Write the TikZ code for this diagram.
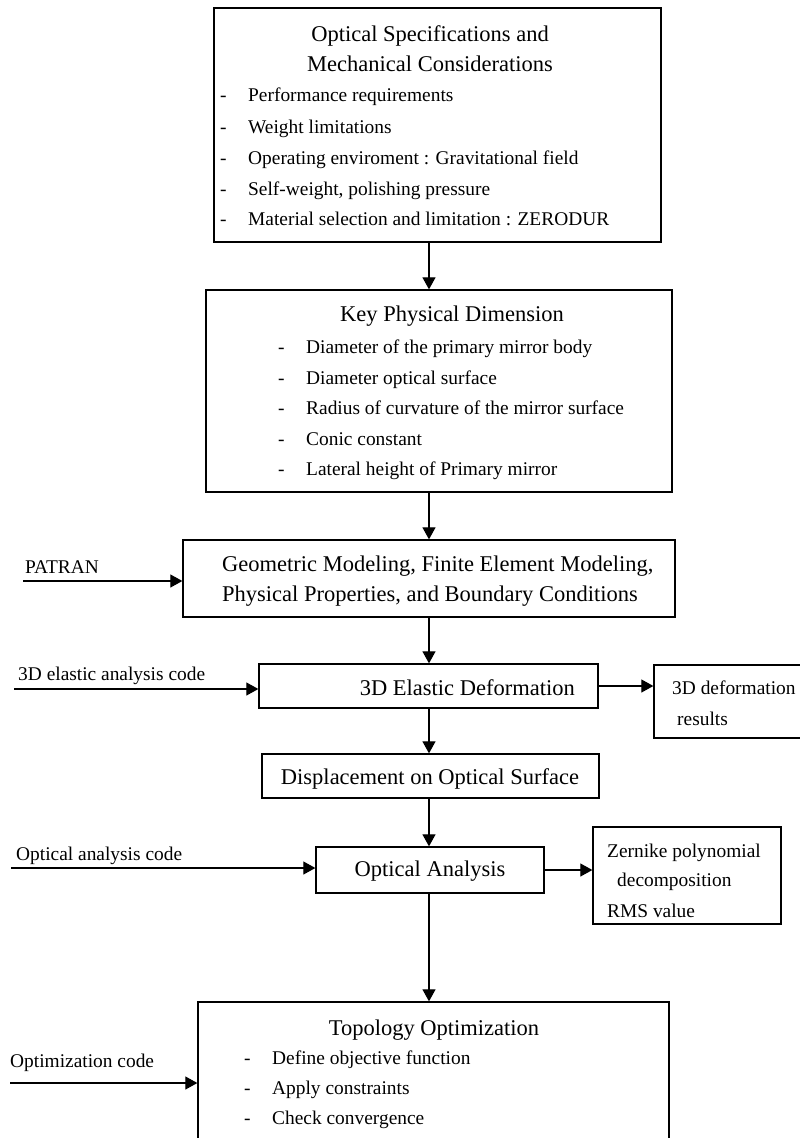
\documentclass[tikz,border=0pt]{standalone}
\usepackage{fontspec}
\setmainfont{Liberation Serif}
\usetikzlibrary{arrows.meta}

\newcommand{\dashitem}[1]{\makebox[28pt][l]{-}#1}

\begin{document}
\begin{tikzpicture}[x=1pt,y=-1pt,
box/.style = {draw, line width=1.3pt, inner sep=0pt},
arr/.style = {line width=1.1pt, -{Triangle[length=12pt,width=13pt]}},
head/.style = {font=\fontsize{22.5}{27}\selectfont, inner sep=0pt, anchor=base},
txt/.style = {font=\fontsize{19.4}{23}\selectfont, inner sep=0pt, anchor=base west}]
\clip (0,0) rectangle (800,1138);

    % boxes
    \node[box, minimum width=447pt, minimum height=234pt] (spec) at (437.5,125) {};
    \node[box, minimum width=466pt, minimum height=202pt] (dims) at (439,391) {};
    \node[box, minimum width=492pt, minimum height=77pt] (geom) at (429,578.5) {};
    \node[box, minimum width=339pt, minimum height=44pt] (elast) at (428.5,686) {};
    \node[box, minimum width=150pt, minimum height=73pt] (defres) at (729,701.5) {};
    \node[box, minimum width=337pt, minimum height=44pt] (disp) at (430.5,776) {};
    \node[box, minimum width=228pt, minimum height=46pt] (optan) at (430,870) {};
    \node[box, minimum width=188pt, minimum height=97pt] (zern) at (687,875.5) {};
    \node[box, minimum width=471pt, minimum height=158pt] (topo) at (433.5,1081) {};

    % specifications
    \node[head] (spect) at (430,41) {Optical Specifications and};
    \node[head] (specu) at (430,71) {Mechanical Considerations};
    \node[txt] (speca) at (220,101) {\dashitem{Performance requirements}};
    \node[txt] (specb) at (220,133) {\dashitem{Weight limitations}};
    \node[txt] (specc) at (220,164) {\dashitem{Operating enviroment : Gravitational field}};
    \node[txt] (specd) at (220,195) {\dashitem{Self-weight, polishing pressure}};
    \node[txt] (spece) at (220,225) {\dashitem{Material selection and limitation : ZERODUR}};

    % dimensions
    \node[head] (dimst) at (452,321) {Key Physical Dimension};
    \node[txt] (dimsa) at (278,353) {\dashitem{Diameter of the primary mirror body}};
    \node[txt] (dimsb) at (278,384) {\dashitem{Diameter optical surface}};
    \node[txt] (dimsc) at (278,414) {\dashitem{Radius of curvature of the mirror surface}};
    \node[txt] (dimsd) at (278,445) {\dashitem{Conic constant}};
    \node[txt] (dimse) at (278,475) {\dashitem{Lateral height of Primary mirror}};

    % modeling
    \node[head, anchor=base west] (geomt) at (222,571) {Geometric Modeling, Finite Element Modeling,};
    \node[head, anchor=base west] (geomu) at (222,601) {Physical Properties, and Boundary Conditions};
    \node[txt] (patran) at (25,573) {PATRAN};
    \coordinate (patranin) at (23,581);
    \draw[arr] (patranin) -- (patranin -| geom.west);

    % elastic deformation
    \node[head, anchor=base east] (elastt) at (575,695) {3D Elastic Deformation};
    \node[txt] (elcode) at (18,680) {3D elastic analysis code};
    \coordinate (elcodein) at (14,689);
    \draw[arr] (elcodein) -- (elcodein -| elast.west);
    \node[txt] (defresa) at (672,694) {3D deformation};
    \node[txt] (defresb) at (677,725) {results};
    \draw[arr] (elast.east) -- (elast.east -| defres.west);

    % displacement and optical analysis
    \node[head] (dispt) at (430,784) {Displacement on Optical Surface};
    \node[head] (optant) at (430,876) {Optical Analysis};
    \node[txt] (opcode) at (16,860) {Optical analysis code};
    \coordinate (opcodein) at (11,868);
    \draw[arr] (opcodein) -- (opcodein -| optan.west);
    \node[txt] (zerna) at (607,857) {Zernike polynomial};
    \node[txt] (zernb) at (617,886) {decomposition};
    \node[txt] (zernc) at (607,917) {RMS value};
    \draw[arr] (optan.east) -- (optan.east -| zern.west);

    % topology optimization
    \node[head] (topot) at (434,1035) {Topology Optimization};
    \node[txt] (topoa) at (244,1064) {\dashitem{Define objective function}};
    \node[txt] (topob) at (244,1094) {\dashitem{Apply constraints}};
    \node[txt] (topoc) at (244,1124) {\dashitem{Check convergence}};
    \node[txt] (optcode) at (10,1067) {Optimization code};
    \coordinate (optcodein) at (10,1083);
    \draw[arr] (optcodein) -- (optcodein -| topo.west);

    % main flow
    \draw[arr] (spec.south -| geom) -- (dims.north -| geom);
    \draw[arr] (dims.south -| geom) -- (geom.north);
    \draw[arr] (geom.south) -- (elast.north -| geom);
    \draw[arr] (elast.south -| geom) -- (disp.north -| geom);
    \draw[arr] (disp.south -| geom) -- (optan.north -| geom);
    \draw[arr] (optan.south -| geom) -- (topo.north -| geom);

\end{tikzpicture}
\end{document}
